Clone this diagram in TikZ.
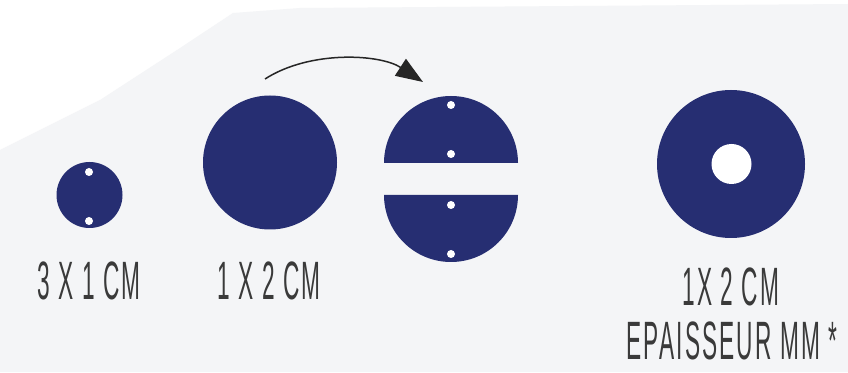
\documentclass[tikz,border=0pt]{standalone}
\usepackage{fontspec}
\setmainfont{Liberation Sans}
\newfontfamily\capfont[FakeStretch=0.42,LetterSpace=4]{Liberation Sans}
\usetikzlibrary{arrows.meta}
\definecolor{navy}{HTML}{262E72}
\definecolor{paper}{HTML}{F4F5F7}
\definecolor{ink}{HTML}{3A3A3A}
\tikzset{
  disc/.style={circle, fill=navy, inner sep=0pt},
  hole/.style={circle, fill=white, inner sep=0pt, minimum size=8pt},
  caption/.style={font=\capfont\fontsize{54}{56}\selectfont, text=ink, inner sep=0pt},
  bigarrow/.style={-{Triangle[length=27pt,width=20pt]}, line width=1.5pt, draw=black!85}
}
\begin{document}
\begin{tikzpicture}[x=1pt,y=1pt]
\useasboundingbox (0,0) rectangle (848,372);
\fill[white] (0,0) rectangle (848,372);
\fill[paper] (0,0) -- (848,0) -- (848,368) -- (300,364) -- (233,359) -- (177,322) -- (100,272) -- (0,222) -- cycle;

% small disc with two holes
\node[disc, minimum size=66pt] (small) at (89.5,177) {};
\node[hole] (sh1) at (89,200) {};
\node[hole] (sh2) at (89,151) {};

% big plain disc
\node[disc, minimum size=134pt] (big) at (270,209.5) {};

% split disc
\fill[navy] (384,209) arc[start angle=180,end angle=0,radius=67] -- cycle;
\fill[navy] (384,177) arc[start angle=180,end angle=360,radius=67] -- cycle;
\node[hole] (ph1) at (451,267) {};
\node[hole] (ph2) at (451,218) {};
\node[hole] (ph3) at (451,167) {};
\node[hole] (ph4) at (451,118) {};

% ring
\node[disc, minimum size=148pt] (ring) at (731,208) {};
\node[hole, minimum size=40pt] (ringhole) at (731.5,208) {};

% arrow
\coordinate (arrS) at (265,293);
\coordinate (arrE) at (423,290);
\draw[bigarrow] (arrS) .. controls (310,322) and (380,318) .. (arrE);

% captions
\node[caption] (c1) at (89,91) {3 X 1 CM};
\node[caption] (c2) at (269,91) {1 X 2 CM};
\node[caption] (c3) at (731,85) {1X 2 CM};
\node[caption] (c4) at (732,31) {EPAISSEUR MM *};
\end{tikzpicture}
\end{document}
